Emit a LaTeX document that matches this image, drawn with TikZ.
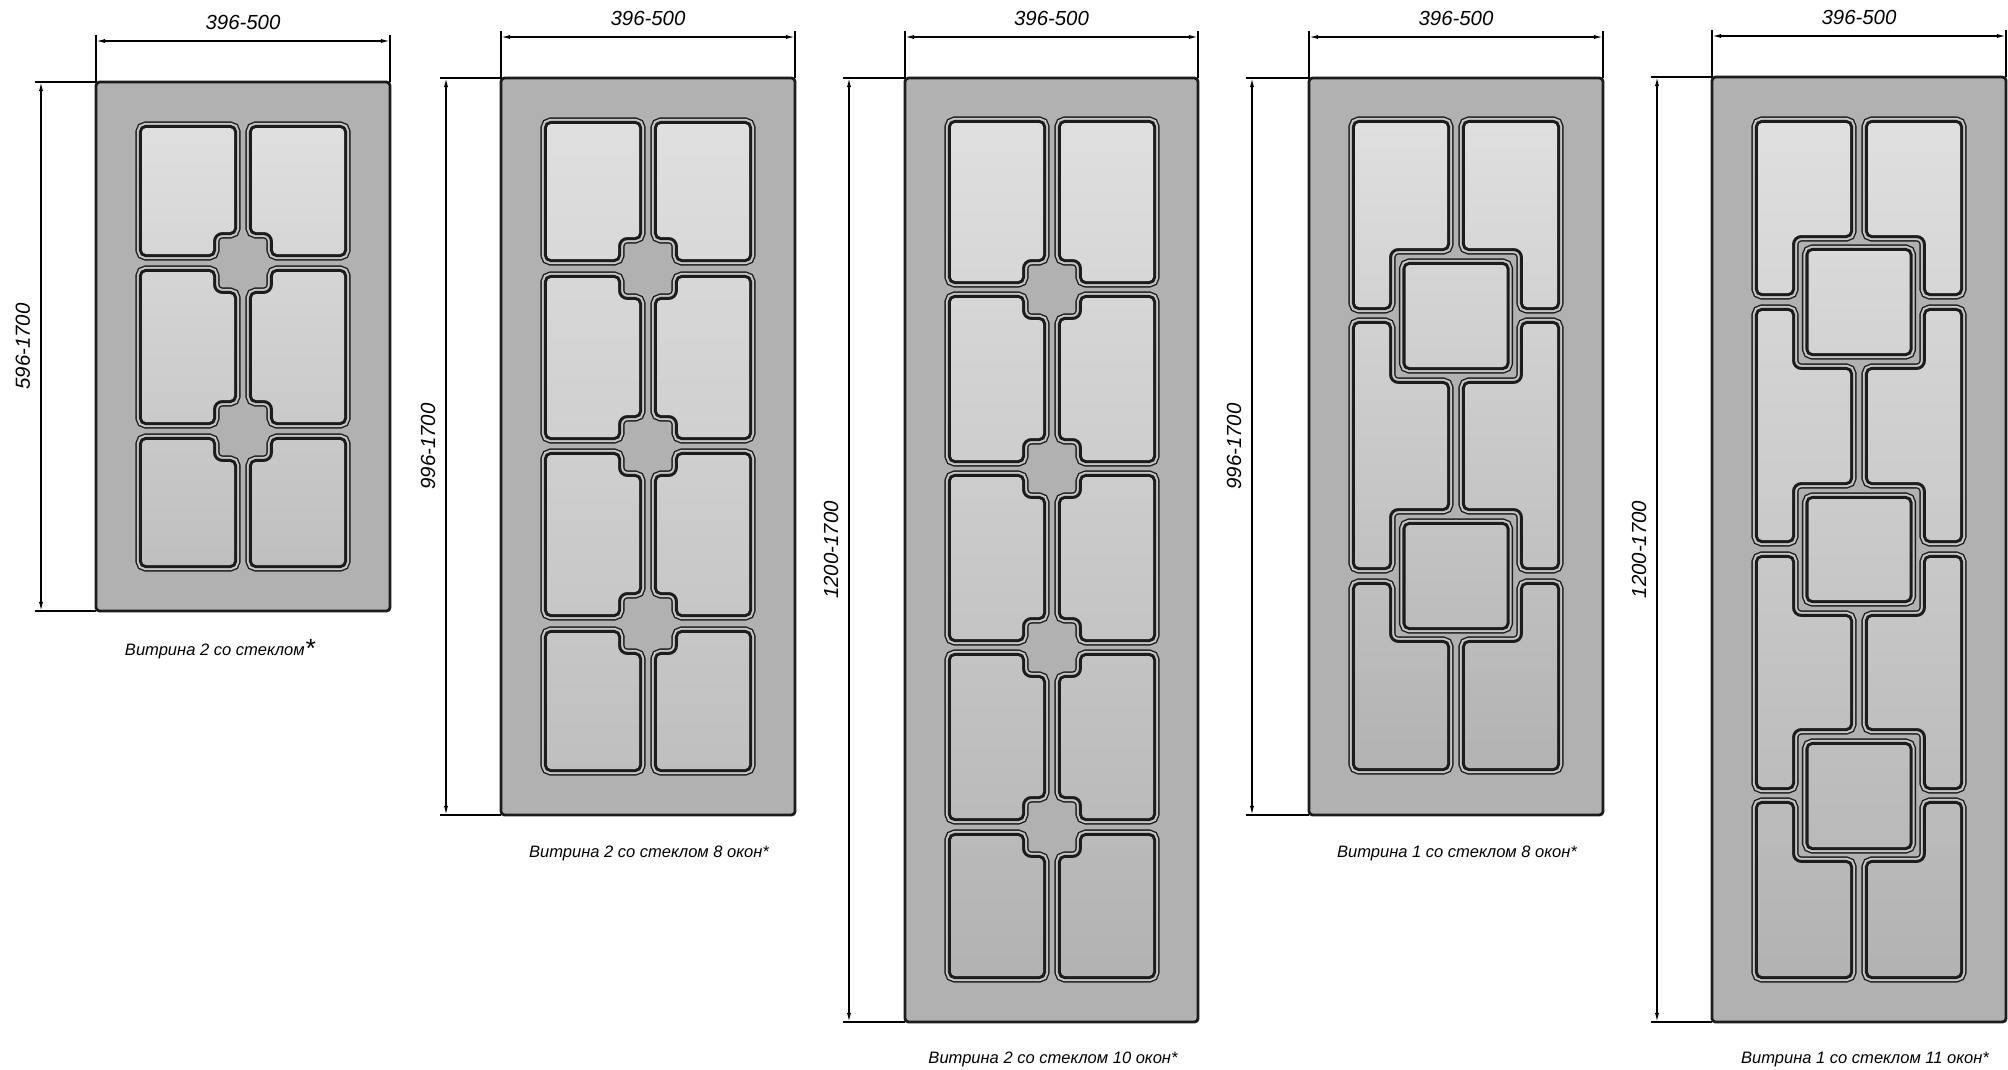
\documentclass[tikz,border=0pt]{standalone}
\usepackage{fontspec}
\setmainfont{Liberation Sans}
\usetikzlibrary{arrows.meta}

\definecolor{doorgray}{HTML}{B1B1B1}
\definecolor{bandgray}{HTML}{C6C6C6}
\definecolor{edgeblack}{HTML}{1C1C1C}

\tikzset{
  doorbox/.style={draw=edgeblack,fill=doorgray,line width=0.8pt,rounded corners=1pt,inner sep=0pt,outer sep=0pt},
  paneout/.style={draw=edgeblack,line width=3.74pt},
  paneband/.style={draw=bandgray,line width=2.95pt},
  panein/.style={draw=edgeblack,line width=1.75pt},
  dimline/.style={draw=black,line width=0.4pt,{Latex[length=2.6pt,width=1.2pt]}-{Latex[length=2.6pt,width=1.2pt]}},
  extline/.style={draw=black,line width=0.4pt},
  dimtext/.style={font=\itshape\fontsize{5.8}{7}\selectfont,inner sep=0pt,anchor=base},
  captext/.style={font=\itshape\fontsize{4.7}{6}\selectfont,inner sep=0pt,anchor=base},
  cvx/.style={rounded corners=1.15pt},
  rfx/.style={rounded corners=2.6pt}
}

% upper edges of a pane, from the door side to the middle bar
\newcommand{\plaintop}[1]{-- ({\doorc+\s*101},#1) -- ({\doorc+\s*9},#1)}
\newcommand{\notchtop}[1]{-- ({\doorc+\s*101},#1) -- ({\doorc+\s*30},#1) [rfx] -- ({\doorc+\s*30},#1+22) [cvx] -- ({\doorc+\s*9},#1+22)}
\newcommand{\tailtop}[2]{-- ({\doorc+\s*101},#1) -- ({\doorc+\s*67},#1) [rfx] -- ({\doorc+\s*67},#2) [cvx] -- ({\doorc+\s*9},#2)}
% lower edges of a pane, back to the door side
\newcommand{\plainbot}[1]{-- ({\doorc+\s*9},#1) -- ({\doorc+\s*101},#1)}
\newcommand{\notchbot}[1]{-- ({\doorc+\s*9},#1-22) [rfx] -- ({\doorc+\s*30},#1-22) [cvx] -- ({\doorc+\s*30},#1) -- ({\doorc+\s*101},#1)}
\newcommand{\tailbot}[2]{-- ({\doorc+\s*9},#1) [rfx] -- ({\doorc+\s*67},#1) [cvx] -- ({\doorc+\s*67},#2) -- ({\doorc+\s*101},#2)}
% a row of two mirrored panes; #1 is a height on the straight side edge
\newcommand{\panerow}[3]{\foreach \s in {-1,1} { [cvx] ({\doorc+\s*101},#1) #2 #3 -- cycle }}
\newcommand{\boxpane}[2]{[cvx] (\doorc,#1) -- ({\doorc+50.5},#1) -- ({\doorc+50.5},#2) -- ({\doorc-50.5},#2) -- ({\doorc-50.5},#1) -- cycle}
\newcommand{\glasspanes}[3]{%
  \path[paneout] #1;
  \path[paneband] #1;
  \path[panein] #1;
  \shade[top color=#2,bottom color=#3] #1;
}

\begin{document}
\begin{tikzpicture}[x=0.01cm,y=-0.01cm]
  \useasboundingbox (0,0) rectangle (2008,1069);

  % door frames with their size lines
  \foreach \nm/\xa/\xb/\ya/\yb/\yw/\xh/\hgt in {
      one/96/390/82/611/41/41/596-1700,
      two/501/795/78/815/37/446/996-1700,
      three/905/1198/78/1022/37/849/1200-1700,
      four/1309/1603/78/815/37/1252/996-1700,
      five/1712/2006/77/1022/36/1657/1200-1700} {
    \node[doorbox,minimum width={(\xb-\xa)*0.01cm},minimum height={(\yb-\ya)*0.01cm}] (\nm) at ({(\xa+\xb)/2},{(\ya+\yb)/2}) {};
    \coordinate (\nm wa) at (\xa,\yw);
    \coordinate (\nm wb) at (\xb,\yw);
    \coordinate (\nm ha) at (\xh,\ya);
    \coordinate (\nm hb) at (\xh,\yb);
    \draw[extline] (\nm.north west) -- ([yshift=0.06cm]\nm wa);
    \draw[extline] (\nm.north east) -- ([yshift=0.06cm]\nm wb);
    \draw[extline] (\nm.north west) -- ([xshift=-0.06cm]\nm ha);
    \draw[extline] (\nm.south west) -- ([xshift=-0.06cm]\nm hb);
    \draw[dimline] (\nm wa) -- (\nm wb);
    \draw[dimline] (\nm ha) -- (\nm hb);
    \node[dimtext] (\nm wlabel) at ({(\xa+\xb)/2},\yw-12) {396-500};
    \node[dimtext,rotate=90] (\nm hlabel) at (\xh-11,{(\ya+\yb)/2}) {\hgt};
  }

  % glass of each door
  \def\doorc{243}
  \glasspanes{\panerow{190}{\plaintop{128}}{\notchbot{254}}
    \panerow{350}{\notchtop{272}}{\notchbot{422}}
    \panerow{500}{\notchtop{440}}{\plainbot{565}}}{gray!25!white}{gray!50!white}

  \def\doorc{648}
  \glasspanes{\panerow{190}{\plaintop{124}}{\notchbot{259}}
    \panerow{350}{\notchtop{278}}{\notchbot{437}}
    \panerow{530}{\notchtop{455}}{\notchbot{614}}
    \panerow{700}{\notchtop{633}}{\plainbot{769}}}{gray!25!white}{gray!50!white}

  \def\doorc{1052}
  \glasspanes{\panerow{190}{\plaintop{123}}{\notchbot{281}}
    \panerow{380}{\notchtop{298}}{\notchbot{460}}
    \panerow{560}{\notchtop{477}}{\notchbot{639}}
    \panerow{730}{\notchtop{656}}{\notchbot{818}}
    \panerow{900}{\notchtop{836}}{\plainbot{976}}}{gray!25!white}{gray!60!white}

  \def\doorc{1456}
  \glasspanes{\panerow{180}{\plaintop{123}}{\tailbot{248}{307}}
    \panerow{450}{\tailtop{324}{384}}{\tailbot{508}{567}}
    \panerow{700}{\tailtop{585}{643}}{\plainbot{768}}
    \boxpane{265}{367} \boxpane{525}{627}}{gray!25!white}{gray!60!white}

  \def\doorc{1859}
  \glasspanes{\panerow{180}{\plaintop{123}}{\tailbot{235}{293}}
    \panerow{420}{\tailtop{311}{370}}{\tailbot{482}{540}}
    \panerow{650}{\tailtop{558}{617}}{\tailbot{728}{787}}
    \panerow{900}{\tailtop{804}{863}}{\plainbot{976}}
    \boxpane{251}{353} \boxpane{499}{600} \boxpane{745}{847}}{gray!25!white}{gray!60!white}

  % captions
  \node[captext] (capone) at (220,655) {Витрина 2 со стеклом\raisebox{-0.25ex}{\fontsize{7.5}{8}\selectfont *}};
  \node[captext] (captwo) at (649,857) {Витрина 2 со стеклом 8 окон*};
  \node[captext] (capthree) at (1053,1063) {Витрина 2 со стеклом 10 окон*};
  \node[captext] (capfour) at (1457,857) {Витрина 1 со стеклом 8 окон*};
  \node[captext] (capfive) at (1865,1063) {Витрина 1 со стеклом 11 окон*};
\end{tikzpicture}
\end{document}
